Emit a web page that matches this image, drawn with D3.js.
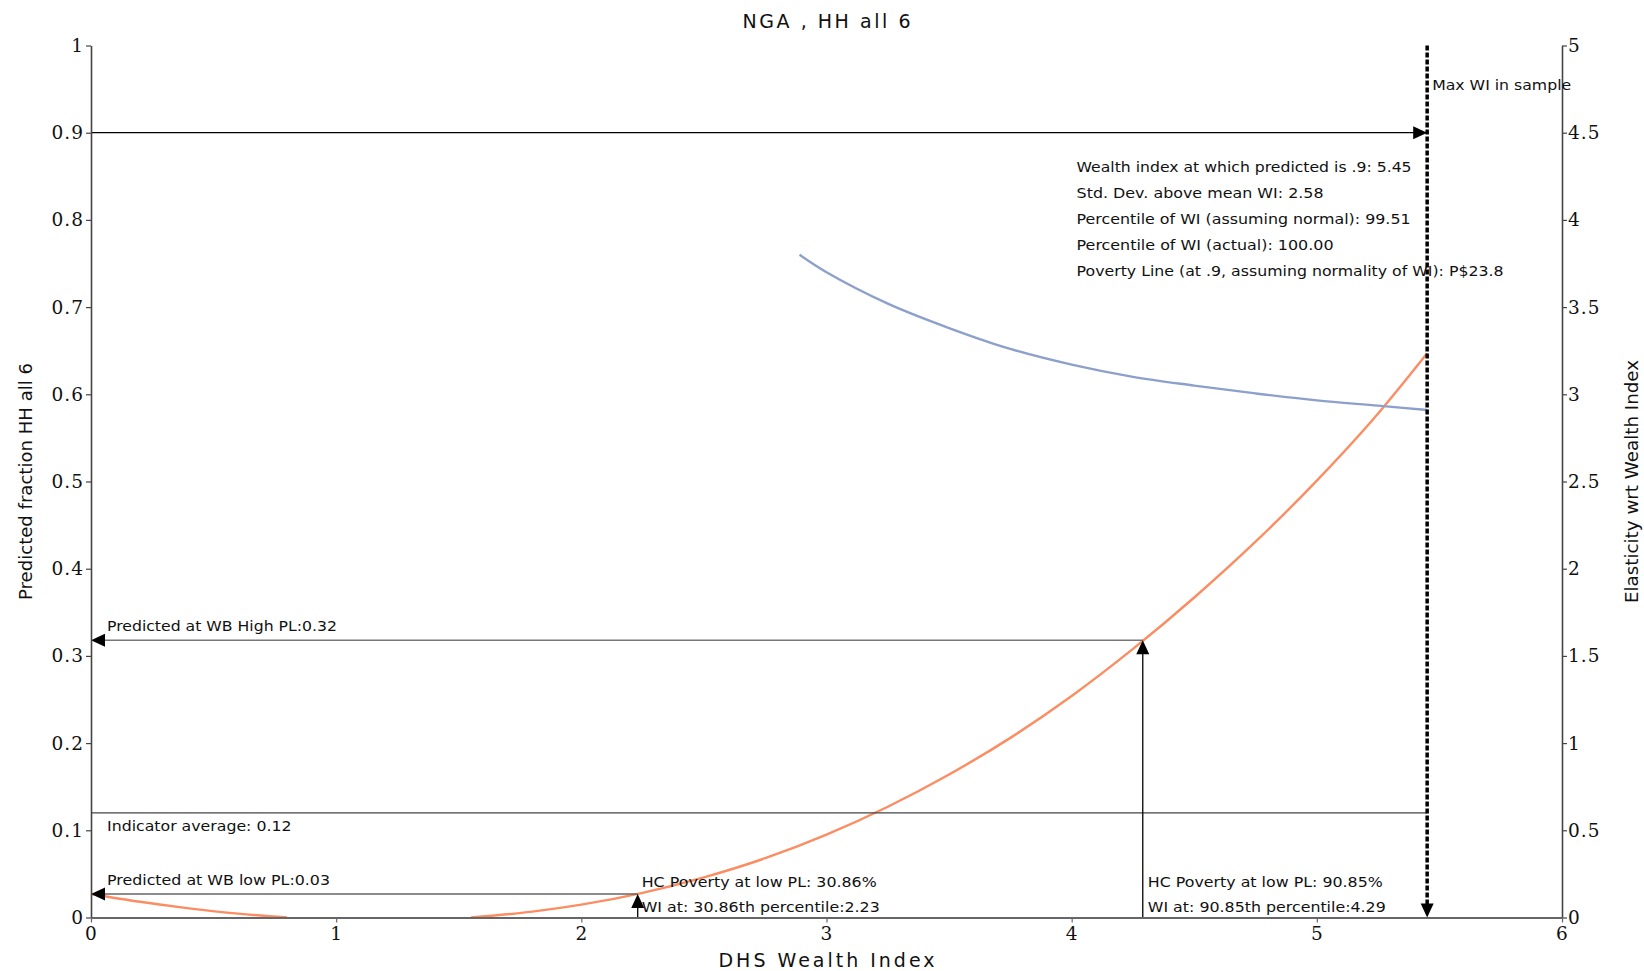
<!DOCTYPE html>
<html>
<head>
<meta charset="utf-8">
<script src="https://cdn.jsdelivr.net/npm/d3@7"></script>
<style>
  html, body { margin: 0; padding: 0; background: #ffffff; }
  svg { display: block; }
</style>
</head>
<body>
<svg id="chart" width="1644" height="971"></svg>
<script>
// ---------------- data ----------------
const chartTitle = "NGA , HH all 6";
const xLabel = "DHS Wealth Index";
const yLeftLabel = "Predicted fraction HH all 6";
const yRightLabel = "Elasticity wrt Wealth Index";

// predicted fraction curve (null = not drawn, curve clipped at zero)
const wiGrid    = [0, 0.2, 0.4, 0.6, 0.8, 1.2, 1.55, 1.8, 2.0, 2.25, 2.5, 2.75, 3.0, 3.25, 3.5, 3.75, 4.0, 4.25, 4.5, 4.75, 5.0, 5.25, 5.45];
const predicted = [0.027, 0.018, 0.0105, 0.0044, 0, null, 0, 0.0067, 0.0147, 0.0283, 0.046, 0.068, 0.095, 0.127, 0.164, 0.206, 0.254, 0.308, 0.367, 0.431, 0.501, 0.578, 0.647];

// elasticity curve (right axis)
const elasX      = [2.89, 3.0, 3.25, 3.5, 3.75, 4.0, 4.25, 4.5, 4.75, 5.0, 5.25, 5.45];
const elasticity = [3.80, 3.70, 3.52, 3.38, 3.26, 3.17, 3.10, 3.05, 3.005, 2.965, 2.935, 2.91];

// reference values
const maxWI = 5.45;
const targetLevel = 0.9;
const indicatorAvg = 0.12;
const lowPL  = { wi: 2.23, pred: 0.027 };
const highPL = { wi: 4.29, pred: 0.318 };

// ticks
const xTicks = [0, 1, 2, 3, 4, 5, 6];
const xTickLabels = ["0", "1", "2", "3", "4", "5", "6"];
const yLeftTicks = [0, 0.1, 0.2, 0.3, 0.4, 0.5, 0.6, 0.7, 0.8, 0.9, 1];
const yLeftTickLabels = ["0", "0.1", "0.2", "0.3", "0.4", "0.5", "0.6", "0.7", "0.8", "0.9", "1"];
const yRightTicks = [0, 0.5, 1, 1.5, 2, 2.5, 3, 3.5, 4, 4.5, 5];
const yRightTickLabels = ["0", "0.5", "1", "1.5", "2", "2.5", "3", "3.5", "4", "4.5", "5"];

// annotation texts
const infoLines = [
  "Wealth index at which predicted is .9: 5.45",
  "Std. Dev. above mean WI: 2.58",
  "Percentile of WI (assuming normal): 99.51",
  "Percentile of WI (actual): 100.00",
  "Poverty Line (at .9, assuming normality of WI): P$23.8"
];
const infoLineLevels = [0.861, 0.831, 0.801, 0.771, 0.741];
const infoLineWidths = [335, 247, 334, 257, 427];
const maxWIText = "Max WI in sample";
const highPLText = "Predicted at WB High PL:0.32";
const lowPLText = "Predicted at WB low PL:0.03";
const avgText = "Indicator average: 0.12";
const lowHCText = ["HC Poverty at low PL: 30.86%", "WI at: 30.86th percentile:2.23"];
const highHCText = ["HC Poverty at low PL: 90.85%", "WI at: 90.85th percentile:4.29"];

// ---------------- layout ----------------
const svg = d3.select("#chart");
const plotLeft = 91, plotRight = 1562, plotTop = 45.5, plotBottom = 917.5;

const x = d3.scaleLinear().domain([0, 6]).range([plotLeft, plotRight]);
const yL = d3.scaleLinear().domain([0, 1]).range([plotBottom, plotTop]);
const yR = d3.scaleLinear().domain([0, 5]).range([plotBottom, plotTop]);

const sansFont = "'DejaVu Sans', Verdana, sans-serif";
const serifFont = "'DejaVu Serif', serif";

function arrow(px, py, dir, len = 14, half = 6.5) {
  let p;
  if (dir === "right") p = [[px, py], [px - len, py - half], [px - len, py + half]];
  else if (dir === "left") p = [[px, py], [px + len, py - half], [px + len, py + half]];
  else if (dir === "up") p = [[px, py], [px - half, py + len], [px + half, py + len]];
  else p = [[px, py], [px - half, py - len], [px + half, py - len]];
  svg.append("path").attr("d", "M" + p.map(q => q.join(",")).join("L") + "Z").attr("fill", "#000");
}

function label(txt, tx, ty, width, size = 14.5) {
  const t = svg.append("text")
    .attr("x", tx).attr("y", ty)
    .attr("font-family", sansFont).attr("font-size", size)
    .attr("fill", "#111")
    .text(txt);
  if (width) t.attr("textLength", width).attr("lengthAdjust", "spacingAndGlyphs");
  return t;
}

// ---------------- curves ----------------
const predData = wiGrid.map((w, i) => ({ x: w, y: predicted[i] }));
const elasData = elasX.map((w, i) => ({ x: w, y: elasticity[i] }));

svg.append("path")
  .datum(predData)
  .attr("fill", "none")
  .attr("stroke", "#fc8d62")
  .attr("stroke-width", 2.4)
  .attr("d", d3.line().defined(d => d.y !== null).x(d => x(d.x)).y(d => yL(d.y)).curve(d3.curveMonotoneX));

svg.append("path")
  .datum(elasData)
  .attr("fill", "none")
  .attr("stroke", "#8da0cb")
  .attr("stroke-width", 2.4)
  .attr("d", d3.line().x(d => x(d.x)).y(d => yR(d.y)).curve(d3.curveCatmullRom.alpha(0.5)));

// ---------------- reference lines ----------------
svg.append("line").attr("x1", x(0)).attr("x2", x(maxWI) - 2).attr("y1", yL(targetLevel)).attr("y2", yL(targetLevel))
  .attr("stroke", "#000").attr("stroke-width", 1.2);
arrow(x(maxWI), yL(targetLevel), "right");

svg.append("line").attr("x1", x(0)).attr("x2", x(maxWI)).attr("y1", yL(indicatorAvg)).attr("y2", yL(indicatorAvg))
  .attr("stroke", "#444").attr("stroke-width", 1.2);

svg.append("line").attr("x1", x(0) + 4).attr("x2", x(highPL.wi)).attr("y1", yL(highPL.pred)).attr("y2", yL(highPL.pred))
  .attr("stroke", "#777").attr("stroke-width", 1.6);
arrow(x(0), yL(highPL.pred), "left");
svg.append("line").attr("x1", x(highPL.wi)).attr("x2", x(highPL.wi)).attr("y1", yL(0)).attr("y2", yL(highPL.pred) + 4)
  .attr("stroke", "#000").attr("stroke-width", 1.3);
arrow(x(highPL.wi), yL(highPL.pred), "up");

svg.append("line").attr("x1", x(0) + 4).attr("x2", x(lowPL.wi)).attr("y1", yL(lowPL.pred)).attr("y2", yL(lowPL.pred))
  .attr("stroke", "#666").attr("stroke-width", 1.4);
arrow(x(0), yL(lowPL.pred), "left");
svg.append("line").attr("x1", x(lowPL.wi)).attr("x2", x(lowPL.wi)).attr("y1", yL(0)).attr("y2", yL(lowPL.pred) + 4)
  .attr("stroke", "#000").attr("stroke-width", 1.3);
arrow(x(lowPL.wi), yL(lowPL.pred), "up");

// ---------------- axes ----------------
const styleAxis = (g, color, width) => {
  g.select(".domain").attr("stroke", color).attr("stroke-width", width);
  g.selectAll(".tick line").attr("stroke", color).attr("stroke-width", 1.2);
  g.selectAll(".tick text").attr("fill", "#111").attr("font-family", serifFont).attr("font-size", 18.5)
    .attr("letter-spacing", "1px");
};

const gLeft = svg.append("g").attr("transform", `translate(${plotLeft},0)`)
  .call(d3.axisLeft(yL).tickValues(yLeftTicks).tickFormat((d, i) => yLeftTickLabels[i]).tickSize(5).tickSizeOuter(0).tickPadding(2));
styleAxis(gLeft, "#444", 1.6);

const gRight = svg.append("g").attr("transform", `translate(${plotRight},0)`)
  .call(d3.axisRight(yR).tickValues(yRightTicks).tickFormat((d, i) => yRightTickLabels[i]).tickSize(5).tickSizeOuter(0).tickPadding(1));
styleAxis(gRight, "#444", 1.6);

const gBottom = svg.append("g").attr("transform", `translate(0,${plotBottom})`)
  .call(d3.axisBottom(x).tickValues(xTicks).tickFormat((d, i) => xTickLabels[i]).tickSize(5).tickSizeOuter(0).tickPadding(4));
styleAxis(gBottom, "#666", 2);

// ---------------- max WI dashed line ----------------
svg.append("line").attr("x1", x(maxWI)).attr("x2", x(maxWI)).attr("y1", yL(1)).attr("y2", yL(0) - 6)
  .attr("stroke", "#000").attr("stroke-width", 3.5).attr("stroke-dasharray", "5,2");
arrow(x(maxWI), yL(0), "down");

// ---------------- annotation text ----------------
label(maxWIText, x(maxWI) + 5, 90, 139);
infoLines.forEach((t, i) => {
  label(t, x(4.02), yL(infoLineLevels[i]), infoLineWidths[i]).attr("dominant-baseline", "central");
});
label(highPLText, x(0) + 16, yL(highPL.pred) - 9, 230);
label(avgText, x(0) + 16, yL(indicatorAvg) + 18, 184.5);
label(lowPLText, x(0) + 16, yL(lowPL.pred) - 9, 223);
label(lowHCText[0], x(lowPL.wi) + 4, yL(0) - 30.5, 235);
label(lowHCText[1], x(lowPL.wi) + 4, yL(0) - 5.5, 238);
label(highHCText[0], x(highPL.wi) + 5, yL(0) - 30.5, 235);
label(highHCText[1], x(highPL.wi) + 5, yL(0) - 5.5, 238);

// ---------------- titles ----------------
svg.append("text").attr("x", (plotLeft + plotRight) / 2).attr("y", 28).attr("text-anchor", "middle")
  .attr("font-family", sansFont).attr("font-size", 19).attr("fill", "#111")
  .attr("textLength", 168).attr("lengthAdjust", "spacing").text(chartTitle);

svg.append("text").attr("x", (plotLeft + plotRight) / 2).attr("y", 967).attr("text-anchor", "middle")
  .attr("font-family", sansFont).attr("font-size", 19).attr("fill", "#111")
  .attr("textLength", 216).attr("lengthAdjust", "spacing").text(xLabel);

svg.append("text").attr("transform", `translate(25,${(plotTop + plotBottom) / 2}) rotate(-90)`)
  .attr("text-anchor", "middle").attr("dominant-baseline", "central")
  .attr("font-family", sansFont).attr("font-size", 18).attr("fill", "#111")
  .attr("textLength", 237).attr("lengthAdjust", "spacingAndGlyphs").text(yLeftLabel);

svg.append("text").attr("transform", `translate(1631.5,${(plotTop + plotBottom) / 2}) rotate(-90)`)
  .attr("text-anchor", "middle").attr("dominant-baseline", "central")
  .attr("font-family", sansFont).attr("font-size", 18).attr("fill", "#111")
  .attr("textLength", 243).attr("lengthAdjust", "spacingAndGlyphs").text(yRightLabel);
</script>
</body>
</html>
